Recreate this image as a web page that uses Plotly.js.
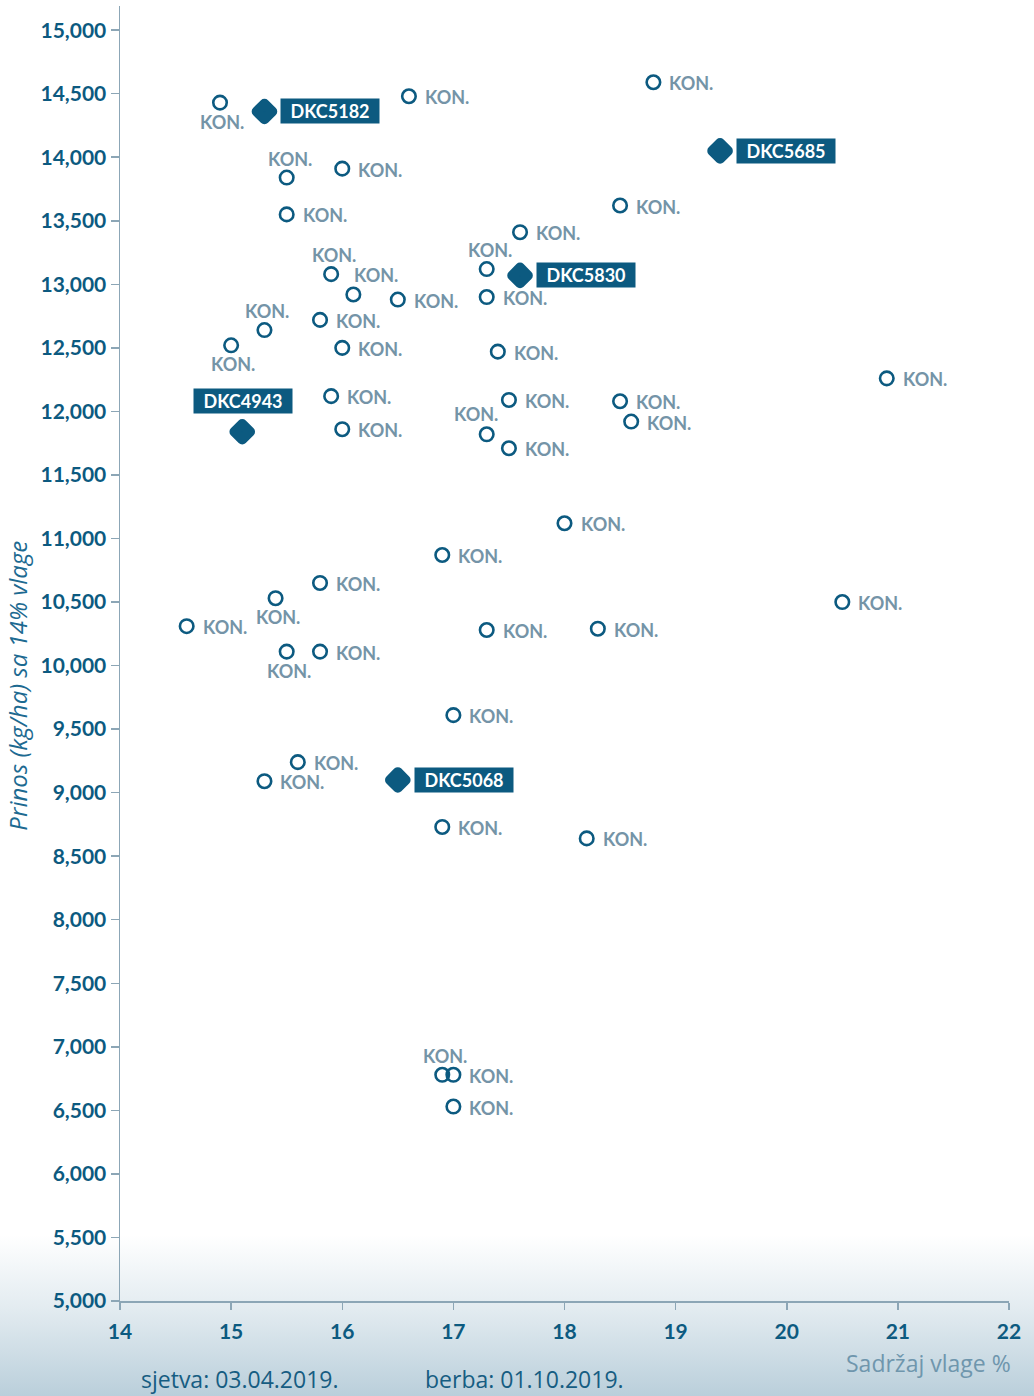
<!DOCTYPE html>
<html>
<head>
<meta charset="utf-8">
<script src="https://cdn.plot.ly/plotly-3.0.1.min.js"></script>
<style>
  html, body { margin: 0; padding: 0; }
  body {
    width: 1034px; height: 1396px;
    background: linear-gradient(to bottom, #ffffff 0px, #ffffff 1235px, #e2ebf0 1310px, #bacfdb 1396px);
  }
  #chart { width: 1034px; height: 1396px; }
  .scatterlayer path.point { stroke-linejoin: round !important; }
</style>
</head>
<body>
<div id="chart"></div>
<script>
// Competitor hybrids ("KON.") : moisture %, yield kg/ha
const konMoisture = [14.9, 16.6, 18.8, 15.5, 16.0, 15.5, 18.5, 17.6, 15.9, 16.1, 16.5, 17.3, 17.3, 15.3, 15.0,
  15.8, 16.0, 17.4, 20.9, 15.9, 17.5, 18.5, 18.6, 16.0, 17.3, 17.5, 18.0, 16.9, 15.8, 15.4,
  14.6, 20.5, 17.3, 18.3, 15.5, 15.8, 17.0, 15.6, 15.3, 16.9, 18.2, 16.9, 17.0, 17.0];
const konYield = [14430, 14480, 14590, 13840, 13910, 13550, 13620, 13410, 13080, 12920, 12880, 13120, 12900, 12640, 12520,
  12720, 12500, 12470, 12260, 12120, 12090, 12080, 11920, 11860, 11820, 11710, 11120, 10870, 10650, 10530,
  10310, 10500, 10280, 10290, 10110, 10110, 9610, 9240, 9090, 8730, 8640, 6780, 6780, 6530];
// label side: r = right, t = top, b = bottom, tr = top-right, tl = top-left
const konLabelSide = ['b', 'r', 'r', 't', 'r', 'r', 'r', 'r', 't', 'tr', 'r', 't', 'r', 't', 'b',
  'r', 'r', 'r', 'r', 'r', 'r', 'r', 'r', 'r', 'tl', 'r', 'r', 'r', 'r', 'b',
  'r', 'r', 'r', 'r', 'b', 'r', 'r', 'r', 'r', 'r', 'r', 't', 'r', 'r'];
const konLabel = 'KON.';

// DEKALB hybrids
const dkcNames = ['DKC5182', 'DKC5685', 'DKC5830', 'DKC4943', 'DKC5068'];
const dkcMoisture = [15.3, 19.4, 17.6, 15.1, 16.5];
const dkcYield = [14360, 14050, 13070, 11840, 9100];
const dkcLabelSide = ['r', 'r', 'r', 't', 'r'];

const xTitle = 'Sadržaj vlage %';
const yTitle = 'Prinos (kg/ha) sa 14% vlage';
const footerSowing = 'sjetva: 03.04.2019.';
const footerHarvest = 'berba: 01.10.2019.';

const DARK = '#0c5a80';
const KONCOL = '#7494a7';
const AXIS = '#8ca6b6';
const FONT = 'Lato, "Open Sans", sans-serif';
const FONT2 = '"Open Sans", Lato, sans-serif';

const traces = [
  {
    type: 'scatter', mode: 'markers',
    x: konMoisture, y: konYield,
    marker: { symbol: 'circle-open', size: 13.5, color: DARK, line: { width: 2.6, color: DARK } },
    hoverinfo: 'x+y', showlegend: false
  },
  {
    type: 'scatter', mode: 'markers',
    x: dkcMoisture, y: dkcYield,
    marker: { symbol: 'diamond', size: 12, color: DARK, line: { width: 10, color: DARK } },
    hoverinfo: 'x+y', showlegend: false
  }
];

const annotations = [];
const shiftMap = {
  r: { xanchor: 'left', xshift: 14, yshift: -1 },
  t: { xanchor: 'center', xshift: 3, yshift: 19 },
  b: { xanchor: 'center', xshift: 2, yshift: -19 },
  tr: { xanchor: 'center', xshift: 23, yshift: 19 },
  tl: { xanchor: 'center', xshift: -11, yshift: 20 }
};
konMoisture.forEach((xv, i) => {
  const s = shiftMap[konLabelSide[i]];
  annotations.push({
    x: xv, y: konYield[i], xref: 'x', yref: 'y', text: konLabel, showarrow: false,
    xanchor: s.xanchor, yanchor: 'middle', xshift: s.xshift, yshift: s.yshift,
    font: { family: FONT, size: 18, color: KONCOL, weight: 700 }
  });
});
dkcNames.forEach((name, i) => {
  const side = dkcLabelSide[i];
  annotations.push({
    x: dkcMoisture[i], y: dkcYield[i], xref: 'x', yref: 'y', text: name, showarrow: false,
    xanchor: side === 'r' ? 'left' : 'center', yanchor: 'middle',
    xshift: side === 'r' ? 16 : 1, yshift: side === 'r' ? 0 : 31,
    bgcolor: DARK, borderpad: 1, width: 96, height: 22,
    font: { family: FONT, size: 18, color: '#ffffff', weight: 700 }
  });
});
// titles and footer
annotations.push({
  xref: 'paper', yref: 'paper', x: -0.115, y: 0.475, text: yTitle, textangle: -90, showarrow: false,
  xanchor: 'center', yanchor: 'middle',
  font: { family: FONT2, size: 24, color: '#1d6a91', style: 'italic' }
});
annotations.push({
  xref: 'paper', yref: 'paper', x: 1.004, y: 0, yshift: -62, text: xTitle, showarrow: false,
  xanchor: 'right', yanchor: 'middle',
  font: { family: FONT2, size: 23, color: '#6f96ad' }
});
annotations.push({
  xref: 'paper', yref: 'paper', x: 0.0215, y: 0, yshift: -78, text: footerSowing, showarrow: false,
  xanchor: 'left', yanchor: 'middle',
  font: { family: FONT2, size: 23, color: '#165d82' }
});
annotations.push({
  xref: 'paper', yref: 'paper', x: 0.341, y: 0, yshift: -78, text: footerHarvest, showarrow: false,
  xanchor: 'left', yanchor: 'middle',
  font: { family: FONT2, size: 23, color: '#165d82' }
});

const layout = {
  width: 1034, height: 1396,
  margin: { l: 120, r: 25, t: 6, b: 95 },
  paper_bgcolor: 'rgba(0,0,0,0)', plot_bgcolor: 'rgba(0,0,0,0)',
  showlegend: false,
  xaxis: {
    range: [14, 22], dtick: 1, tick0: 14, showgrid: false, zeroline: false,
    showline: true, linecolor: AXIS, linewidth: 1.5,
    ticks: 'outside', ticklen: 7, tickcolor: AXIS, tickwidth: 1.5,
    ticklabelstandoff: 4,
    tickfont: { family: FONT, size: 21, color: DARK, weight: 700 }
  },
  yaxis: {
    range: [5000, 15190], dtick: 500, tick0: 5000, showgrid: false, zeroline: false,
    showline: true, linecolor: AXIS, linewidth: 1.5,
    ticks: 'outside', ticklen: 8, tickcolor: AXIS, tickwidth: 1.5,
    tickformat: ',d',
    tickfont: { family: FONT, size: 21, color: DARK, weight: 700 }
  },
  annotations: annotations
};

Plotly.newPlot('chart', traces, layout, { displayModeBar: false, staticPlot: true }).then(function (gd) {
  gd.querySelectorAll('.scatterlayer path.point').forEach(function (p) {
    p.style.strokeLinejoin = 'round';
  });
});
</script>
</body>
</html>
